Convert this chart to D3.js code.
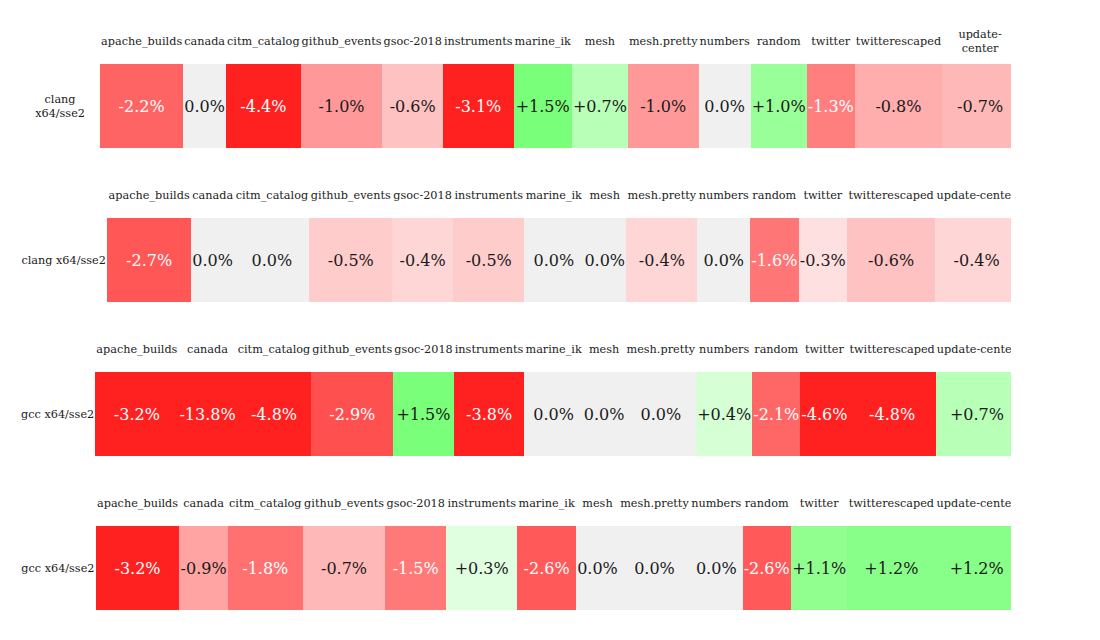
<!DOCTYPE html>
<html>
<head>
<meta charset="utf-8">
<script src="https://cdn.jsdelivr.net/npm/d3@7"></script>
<style>
  html, body { margin: 0; padding: 0; background: #ffffff; }
  svg { display: block; }
</style>
</head>
<body>
<svg id="chart" width="1100" height="640"></svg>
<script>
// ---------------- data ----------------
const benchmarks = ["apache_builds", "canada", "citm_catalog", "github_events", "gsoc-2018",
  "instruments", "marine_ik", "mesh", "mesh.pretty", "numbers", "random", "twitter",
  "twitterescaped", "update-center"];
const rowLabels = ["clang x64/sse2", "clang x64/sse2", "gcc x64/sse2", "gcc x64/sse2"];
const valuesRow1 = [-2.2, 0.0, -4.4, -1.0, -0.6, -3.1, 1.5, 0.7, -1.0, 0.0, 1.0, -1.3, -0.8, -0.7];
const valuesRow2 = [-2.7, 0.0, 0.0, -0.5, -0.4, -0.5, 0.0, 0.0, -0.4, 0.0, -1.6, -0.3, -0.6, -0.4];
const valuesRow3 = [-3.2, -13.8, -4.8, -2.9, 1.5, -3.8, 0.0, 0.0, 0.0, 0.4, -2.1, -4.6, -4.8, 0.7];
const valuesRow4 = [-3.2, -0.9, -1.8, -0.7, -1.5, 0.3, -2.6, 0.0, 0.0, 0.0, -2.6, 1.1, 1.2, 1.2];
const rowValues = [valuesRow1, valuesRow2, valuesRow3, valuesRow4];

// ---------------- style / layout ----------------
const FONT = "DejaVu Serif";
const headSize = 11.25, valSize = 16, labelSize = 11.25, lineH = 14;
const pad = 1;
const tableLeft = 20, tableWidth = 998, clipRight = 1011;
const cellH = 84, headGap = 23;

const svg = d3.select("#chart");
svg.append("defs").append("clipPath").attr("id", "clipR")
  .append("rect").attr("x", 0).attr("y", 0).attr("width", clipRight).attr("height", 640);

// row index -> cell top
const yRow = d3.scaleLinear().domain([0, 1]).range([64, 218]);

// magnitude -> off-channel intensity
const offChannel = d3.scaleLinear()
  .domain([0, 0.3, 0.5, 1.0, 1.3, 2.2, 2.9, 3.0])
  .range([240, 224, 204, 153, 127, 100, 80, 32])
  .clamp(true);
function cellColor(v) {
  if (v === 0) return d3.rgb(240, 240, 240);
  const c = Math.round(offChannel(Math.abs(v)));
  return v < 0 ? d3.rgb(255, c, c) : d3.rgb(c, 255, c);
}
function textColor(col) { return d3.lab(col).l > 71 ? "#1a1a1a" : "#ffffff"; }
function fmt(v) { return (v > 0 ? "+" : "") + v.toFixed(1) + "%"; }

const meas = svg.append("text").attr("font-family", FONT).attr("visibility", "hidden");
function tw(s, size) { meas.attr("font-size", size).text(s); return meas.node().getComputedTextLength(); }

// break opportunities: spaces, and after a hyphen that is followed by a letter
function tokens(s) {
  const out = [];
  s.split(" ").forEach((w, wi) => {
    w.split(/(?<=-)(?=[A-Za-z])/).forEach((p, pi) => out.push({ text: p, sep: (wi > 0 && pi === 0) ? " " : "" }));
  });
  return out;
}
function wrap(s, maxW, size) {
  const toks = tokens(s);
  const lines = [];
  let cur = "";
  toks.forEach(t => {
    if (cur === "") { cur = t.text; return; }
    const cand = cur + t.sep + t.text;
    if (tw(cand, size) <= maxW + 0.5) cur = cand;
    else { lines.push(cur); cur = t.text; }
  });
  if (cur !== "") lines.push(cur);
  return lines;
}

const root = svg.append("g").attr("clip-path", "url(#clipR)");

rowValues.forEach((vals, r) => {
  const cols = [{ key: "__label", head: "", body: rowLabels[r], bodySize: labelSize, label: true }]
    .concat(benchmarks.map((b, i) => ({ key: b, head: b, body: fmt(vals[i]), bodySize: valSize, v: vals[i] })));

  cols.forEach(c => {
    const hN = c.head ? tw(c.head, headSize) : 0;
    const hM = c.head ? d3.max(tokens(c.head), t => tw(t.text, headSize)) : 0;
    const bN = tw(c.body, c.bodySize);
    const bM = c.label ? d3.max(tokens(c.body), t => tw(t.text, c.bodySize)) : bN;
    c.nat = Math.max(hN, bN) + 2 * pad;
    c.min = Math.max(hM, bM) + 2 * pad;
  });
  const sumN = d3.sum(cols, c => c.nat), sumM = d3.sum(cols, c => c.min);
  cols.forEach(c => {
    if (sumN <= tableWidth) c.w = c.nat * tableWidth / sumN;
    else c.w = c.min + (c.nat - c.min) * (tableWidth - sumM) / (sumN - sumM);
  });
  const lefts = d3.cumsum([0].concat(cols.map(c => c.w))).slice(0, cols.length).map(d => d + tableLeft);
  const x = d3.scaleOrdinal().domain(cols.map(c => c.key)).range(lefts);

  const top = yRow(r);
  const cy = top + cellH / 2;
  const hy = top - headGap;
  const g = root.append("g");

  // cells
  g.selectAll("rect.cell").data(cols.filter(c => !c.label)).join("rect")
    .attr("class", "cell")
    .attr("x", c => x(c.key)).attr("y", top)
    .attr("width", c => c.w + 0.3).attr("height", cellH)
    .attr("shape-rendering", "crispEdges")
    .attr("fill", c => cellColor(c.v));

  // headers
  cols.filter(c => c.head).forEach(c => {
    const lines = wrap(c.head, c.w - 2 * pad, headSize);
    const t = g.append("text").attr("font-family", FONT).attr("font-size", headSize)
      .attr("fill", "#222").attr("text-anchor", "middle");
    lines.forEach((ln, i) => {
      t.append("tspan").attr("x", x(c.key) + c.w / 2)
        .attr("y", hy + 0.35 * headSize + (i - (lines.length - 1) / 2) * lineH).text(ln);
    });
  });

  // body texts
  cols.forEach(c => {
    const t = g.append("text").attr("font-family", FONT).attr("font-size", c.bodySize)
      .attr("text-anchor", "middle");
    if (c.label) {
      const lines = wrap(c.body, c.w - 2 * pad, c.bodySize);
      t.attr("fill", "#1a1a1a");
      lines.forEach((ln, i) => {
        t.append("tspan").attr("x", x(c.key) + c.w / 2)
          .attr("y", cy + 0.35 * c.bodySize + (i - (lines.length - 1) / 2) * lineH).text(ln);
      });
    } else {
      t.attr("x", x(c.key) + c.w / 2).attr("y", cy + 0.36 * c.bodySize)
        .attr("fill", textColor(cellColor(c.v))).text(c.body);
    }
  });
});
meas.remove();
</script>
</body>
</html>
